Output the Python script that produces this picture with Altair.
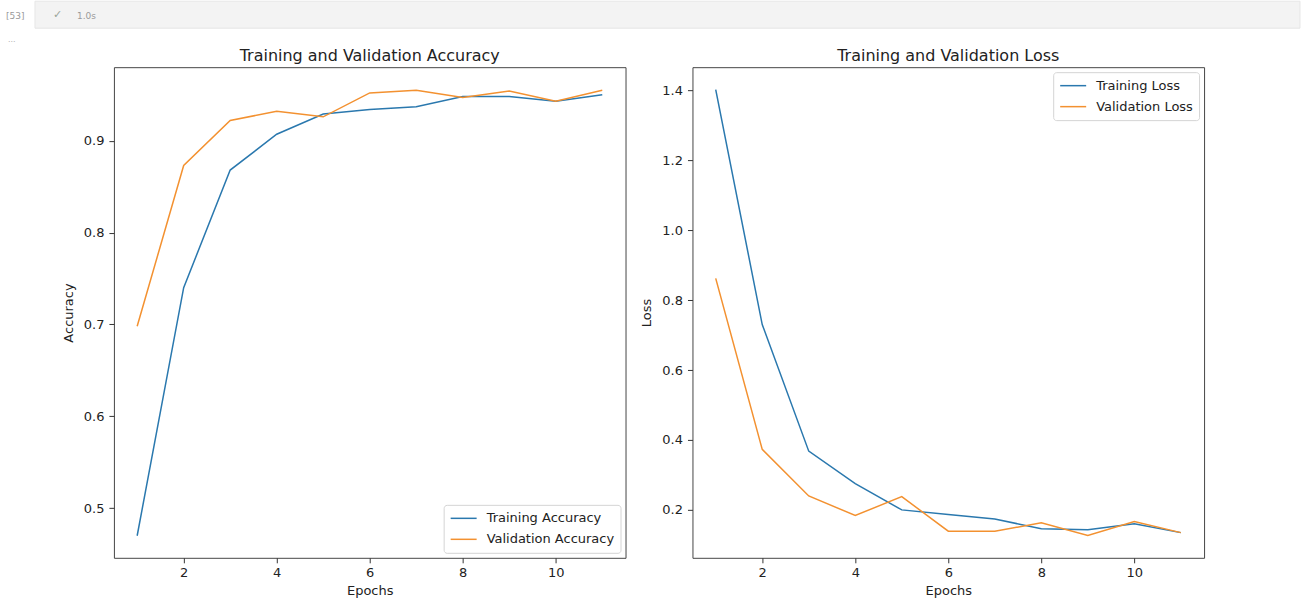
import altair as alt
import pandas as pd

# ---------------- data ----------------
epochs = list(range(1, 12))
train_acc = [0.470, 0.740, 0.868, 0.907, 0.929, 0.934, 0.937, 0.948, 0.948, 0.943, 0.950]
val_acc = [0.698, 0.873, 0.922, 0.932, 0.926, 0.952, 0.955, 0.947, 0.954, 0.943, 0.955]
train_loss = [1.402, 0.730, 0.368, 0.275, 0.200, 0.187, 0.174, 0.146, 0.143, 0.160, 0.135]
val_loss = [0.862, 0.373, 0.240, 0.184, 0.238, 0.139, 0.139, 0.163, 0.127, 0.167, 0.135]

acc_series = ["Training Accuracy", "Validation Accuracy"]
loss_series = ["Training Loss", "Validation Loss"]
x_ticks = [2, 4, 6, 8, 10]
acc_ticks = [0.5, 0.6, 0.7, 0.8, 0.9]
loss_ticks = [0.2, 0.4, 0.6, 0.8, 1.0, 1.2, 1.4]

header_cell = "[53]"
header_check = "\u2713"
header_time = "1.0s"
header_more = "..."

# ---------------- style ----------------
BLUE = "#2a78ae"
ORANGE = "#f39130"
FONT = "DejaVu Sans"
FRAME = "#454545"
LEFT = 113  # pixel offset of the left plot area from the page edge
HEADER_H = 45


def long_df(a, b, names):
    return pd.DataFrame({
        "Epoch": epochs + epochs,
        "Value": a + b,
        "Series": [names[0]] * len(a) + [names[1]] * len(b),
    })


def panel(df, title, ytitle, ydomain, yticks, names, legend_orient, anchor=False):
    x = alt.X("Epoch:Q",
              scale=alt.Scale(domain=[0.5, 11.5], nice=False, zero=False),
              axis=alt.Axis(values=x_ticks, title="Epochs", format="d"))
    y = alt.Y("Value:Q",
              scale=alt.Scale(domain=ydomain, nice=False, zero=False),
              axis=alt.Axis(values=yticks, title=ytitle, format=".1f"))
    color = alt.Color("Series:N",
                      scale=alt.Scale(domain=names, range=[BLUE, ORANGE]),
                      legend=alt.Legend(title=None, orient=legend_orient,
                                        symbolType="M-1,0H3", symbolStrokeWidth=1.5,
                                        symbolSize=169, labelFont=FONT, labelFontSize=13,
                                        labelColor="#222", fillColor="white",
                                        strokeColor="#d4d4d4", cornerRadius=3,
                                        padding=6, offset=5, rowPadding=6,
                                        labelOffset=22))
    lines = alt.Chart(df).mark_line(strokeWidth=1.5).encode(x=x, y=y, color=color)
    layers = [lines]
    if anchor:
        a = alt.Chart(pd.DataFrame({"k": [0]})).mark_rect(fill="white", opacity=1).encode(
            x=alt.value(-LEFT), x2=alt.value(-LEFT + 1), y=alt.value(0), y2=alt.value(1))
        layers.append(a)
    return alt.layer(*layers).properties(
        width=512, height=491,
        title=alt.TitleParams(title, font=FONT, fontSize=16, fontWeight="normal",
                              color="#222", anchor="middle", offset=3),
        view=alt.ViewBackground(stroke=FRAME, strokeWidth=1),
    )


left = panel(long_df(train_acc, val_acc, acc_series), "Training and Validation Accuracy",
             "Accuracy", [0.446, 0.980], acc_ticks, acc_series, "bottom-right", anchor=True)
right = panel(long_df(train_loss, val_loss, loss_series), "Training and Validation Loss",
              "Loss", [0.063, 1.466], loss_ticks, loss_series, "top-right")

body = alt.hconcat(left, right, spacing=13).resolve_scale(color="independent")

# ---------------- notebook header strip (origin aligned with left plot) ----------------
one = pd.DataFrame({"k": [0]})
hb = alt.Chart(one)
header = alt.layer(
    hb.mark_rect(fill="white").encode(x=alt.value(-LEFT), x2=alt.value(-LEFT + 1),
                                      y=alt.value(0), y2=alt.value(HEADER_H)),
    hb.mark_rect(fill="#f3f3f3", stroke="#e6e6e6", strokeWidth=1).encode(
        x=alt.value(34 - LEFT), x2=alt.value(1300 - LEFT), y=alt.value(0), y2=alt.value(27)),
    hb.mark_text(text=header_cell, font=FONT, fontSize=9, color="#9a9a9a", align="left",
                 baseline="middle").encode(x=alt.value(5 - LEFT), y=alt.value(15)),
    hb.mark_text(text=header_check, font=FONT, fontSize=11, color="#9aa59a", align="left",
                 baseline="middle").encode(x=alt.value(52 - LEFT), y=alt.value(14)),
    hb.mark_text(text=header_time, font=FONT, fontSize=9, color="#9a9a9a", align="left",
                 baseline="middle").encode(x=alt.value(76 - LEFT), y=alt.value(15)),
    hb.mark_text(text=header_more, font=FONT, fontSize=8, color="#b0b0b0", align="left",
                 baseline="middle").encode(x=alt.value(7 - LEFT), y=alt.value(39)),
).properties(width=512, height=HEADER_H, view=alt.ViewBackground(stroke="transparent"))

chart = alt.vconcat(header, body, spacing=0).properties(
    padding=0, background="white"
).configure_axis(
    labelFont=FONT, labelFontSize=13, labelColor="#222",
    titleFont=FONT, titleFontSize=13, titleFontWeight="normal", titleColor="#222",
    tickSize=5, tickColor="#333", tickWidth=1, grid=False, domain=False,
).configure_axisY(titlePadding=8, labelPadding=5).configure_axisX(titlePadding=5, labelPadding=4)

chart.save("out.html", embed_options={"renderer": "svg", "actions": False})
